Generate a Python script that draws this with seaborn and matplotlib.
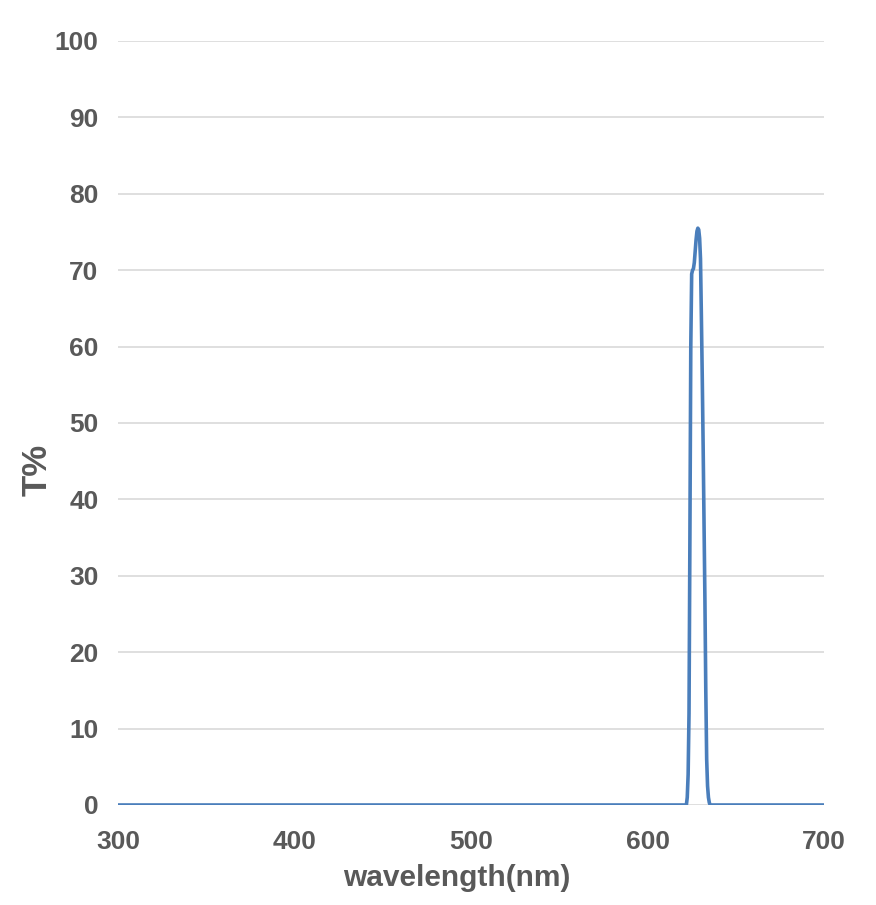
import numpy as np
import pandas as pd
import matplotlib
matplotlib.use('Agg')
import matplotlib.pyplot as plt
import seaborn as sns

# transmission curve
wavelength = [300, 500, 622, 622.5, 623, 623.5, 624, 624.5, 625, 625.5, 626, 626.5, 627, 627.5,
              628, 628.5, 629, 629.5, 630, 630.5, 631, 631.5, 632, 632.5, 633, 633.5, 634, 634.5,
              635, 635.5, 700]
transmission = [0, 0, 0, 1, 4, 12, 35, 60, 69.5, 70, 70.2, 71, 72.5, 74,
                75.1, 75.5, 75.3, 74.2, 71.5, 64, 56, 47, 37, 27, 15, 6, 2.5, 1,
                0.3, 0, 0]

df = pd.DataFrame({'wavelength': wavelength, 'T': transmission})

sns.set_theme(style='white')
plt.rcParams['font.family'] = ['Liberation Sans', 'DejaVu Sans']

fig = plt.figure(figsize=(8.76, 9.05), dpi=100)
ax = fig.add_axes([0.1347, 0.1105, 0.806, 0.8442])

sns.lineplot(data=df, x='wavelength', y='T', ax=ax, color='#4a7ebb', linewidth=2.6, zorder=3)

ax.set_xlim(300, 700)
ax.set_ylim(0, 100)
ax.set_xticks(range(300, 701, 100))
ax.set_yticks(range(0, 101, 10))
ax.yaxis.grid(True, color='#d9d9d9', linewidth=1.2)
ax.xaxis.grid(False)
for s in ax.spines.values():
    s.set_visible(False)

ax.tick_params(axis='both', length=0, labelsize=19, labelcolor='#595959')
ax.tick_params(axis='x', pad=18)
ax.tick_params(axis='y', pad=14)
for lab in ax.get_xticklabels() + ax.get_yticklabels():
    lab.set_fontweight('bold')

ax.set_xlabel('wavelength(nm)', fontsize=21.5, fontweight='bold', color='#595959', va='center')
ax.set_ylabel('T%', fontsize=25, fontweight='bold', color='#595959', va='center')
ax.xaxis.set_label_coords(0.48, -0.0955)
ax.yaxis.set_label_coords(-0.115, 0.4385)

fig.savefig('out.png', dpi=100)
